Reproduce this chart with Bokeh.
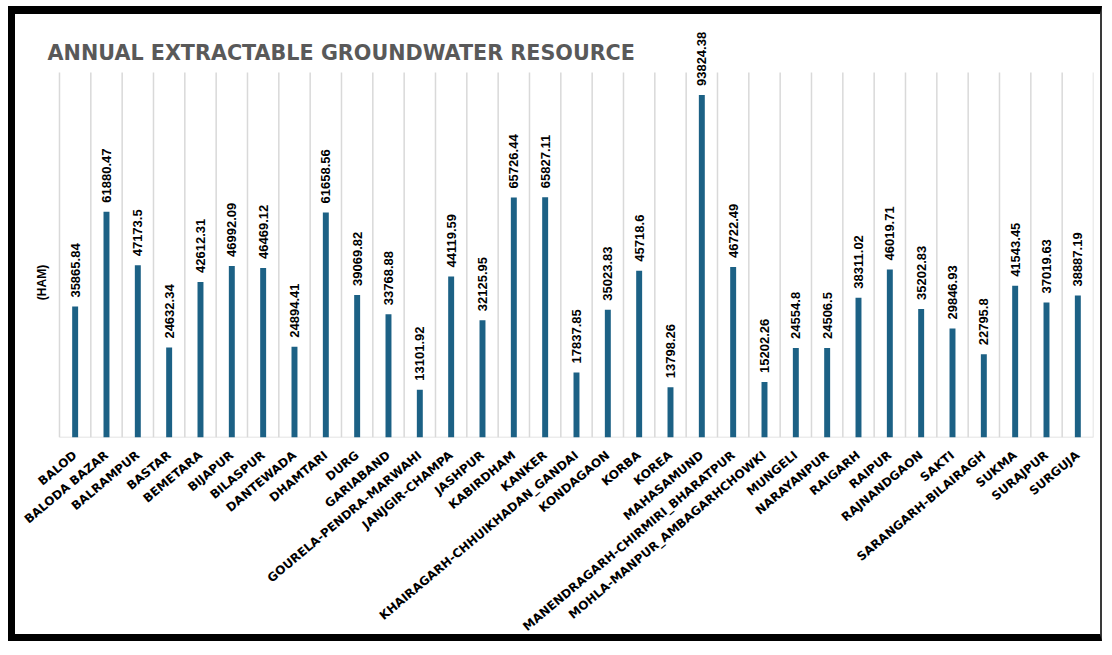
import math
from bokeh.plotting import figure
from bokeh.models import Range1d, FixedTicker, ColumnDataSource
from bokeh.core.properties import value
from bokeh.embed import file_html
from bokeh.resources import INLINE

districts = [
    "BALOD", "BALODA BAZAR", "BALRAMPUR", "BASTAR", "BEMETARA", "BIJAPUR",
    "BILASPUR", "DANTEWADA", "DHAMTARI", "DURG", "GARIABAND",
    "GOURELA-PENDRA-MARWAHI", "JANJGIR-CHAMPA", "JASHPUR", "KABIRDHAM",
    "KANKER", "KHAIRAGARH-CHHUIKHADAN_GANDAI", "KONDAGAON", "KORBA", "KOREA",
    "MAHASAMUND", "MANENDRAGARH-CHIRMIRI_BHARATPUR",
    "MOHLA-MANPUR_AMBAGARHCHOWKI", "MUNGELI", "NARAYANPUR", "RAIGARH",
    "RAIPUR", "RAJNANDGAON", "SAKTI", "SARANGARH-BILAIRAGH", "SUKMA",
    "SURAJPUR", "SURGUJA",
]
resource_ham = [
    35865.84, 61880.47, 47173.5, 24632.34, 42612.31, 46992.09,
    46469.12, 24894.41, 61658.56, 39069.82, 33768.88,
    13101.92, 44119.59, 32125.95, 65726.44,
    65827.11, 17837.85, 35023.83, 45718.6, 13798.26,
    93824.38, 46722.49,
    15202.26, 24554.8, 24506.5, 38311.02,
    46019.71, 35202.83, 29846.93, 22795.8, 41543.45,
    37019.63, 38887.19,
]
axis_max = 100000
title_text = "ANNUAL EXTRACTABLE GROUNDWATER RESOURCE"
unit_text = "(HAM)"

n = len(districts)
centers = [i + 0.5 for i in range(n)]
src = ColumnDataSource(dict(
    x=centers,
    top=resource_ham,
    txt=[str(v) for v in resource_ham],
))

# the plot area is padded left and above the value axis so that the title,
# the unit label and the tallest value label can sit inside it
p = figure(
    width=1094, height=635,
    x_range=Range1d(-0.925, n), y_range=Range1d(0, axis_max * 1.1425),
    output_backend="svg", toolbar_location=None,
    min_border_left=15, min_border_right=16,
    min_border_top=6, min_border_bottom=212,
    margin=(6, 0, 0, 8),
    styles={
        "border-left": "7px solid #000",
        "border-top": "8px solid #000",
        "border-bottom": "7px solid #000",
        "border-right": "2px solid #3a3a3a",
    },
)
p.outline_line_color = None
p.background_fill_color = "white"
p.border_fill_color = "white"
p.xgrid.visible = False
p.ygrid.visible = False
p.yaxis.visible = False

# vertical separators between districts and the baseline
bounds = list(range(n + 1))
p.segment(x0=bounds, y0=[0] * len(bounds), x1=bounds, y1=[axis_max] * len(bounds),
          line_color="#d9d9d9", line_width=1.5)
p.segment(x0=[0], y0=[0], x1=[n], y1=[0], line_color="#d9d9d9", line_width=1.5)

# bars
p.vbar(x="x", top="top", width=0.19, bottom=0, source=src,
       fill_color="#1c6185", line_color=None)

# value labels, rotated above each bar
p.text(x="x", y="top", text="txt", source=src, angle=math.pi / 2,
       text_align="left", text_baseline="middle", y_offset=-9,
       text_font=value("Liberation Sans"), text_font_style="bold",
       text_font_size="13px", text_color="#000000")

# title
p.text(x=[-0.38], y=[axis_max * 1.0548], text=[title_text],
       text_align="left", text_baseline="alphabetic",
       text_font=value("DejaVu Sans"), text_font_style="bold",
       text_font_size="20.7px", text_color="#595959")

# unit label
p.text(x=[-0.543], y=[axis_max * 0.4247], text=[unit_text], angle=math.pi / 2,
       text_align="center", text_baseline="middle",
       text_font=value("Liberation Sans"), text_font_style="bold",
       text_font_size="12px", text_color="#000000")

# district axis
xa = p.xaxis[0]
xa.ticker = FixedTicker(ticks=centers)
xa.major_label_overrides = {c: d for c, d in zip(centers, districts)}
xa.major_label_orientation = math.radians(40)
xa.major_label_text_font = "DejaVu Sans"
xa.major_label_text_font_style = "bold"
xa.major_label_text_font_size = "12px"
xa.major_label_text_color = "#000000"
xa.major_label_standoff = 10
xa.major_tick_line_color = None
xa.minor_tick_line_color = None
xa.axis_line_color = None

open("out.html", "w").write(file_html(p, INLINE))
